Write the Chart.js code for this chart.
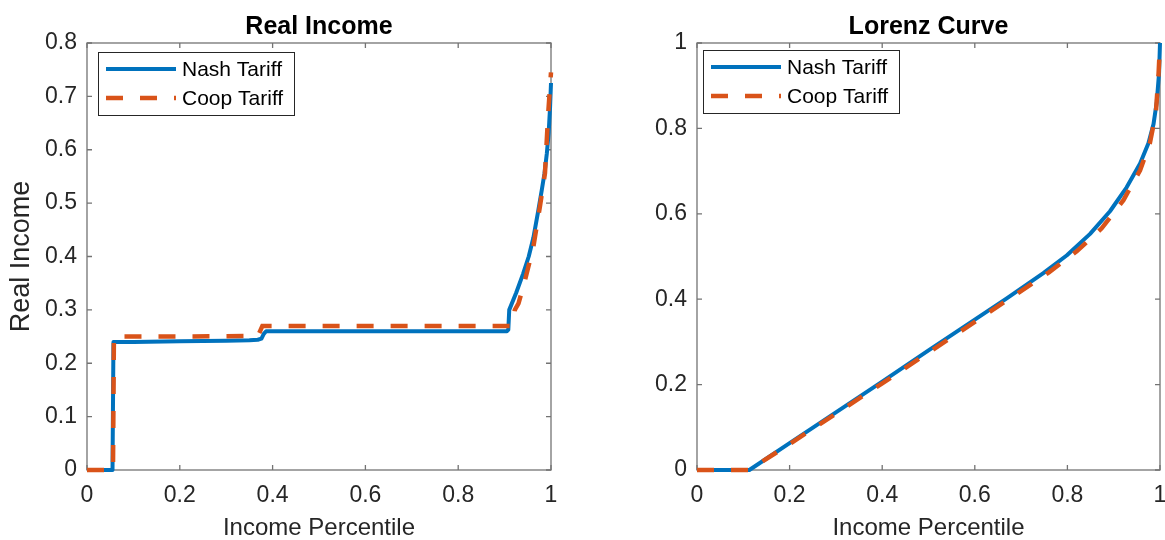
<!DOCTYPE html>
<html>
<head>
<meta charset="utf-8">
<title>Real Income and Lorenz Curve</title>
<script src="https://cdn.jsdelivr.net/npm/chart.js@4.4.0/dist/chart.umd.min.js"></script>
<style>
  body { margin: 0; background: #fff; width: 1165px; height: 540px; overflow: hidden; position: relative; }
  canvas { position: absolute; top: 0; }
  #income { left: 0; }
  #lorenz { left: 600px; }
</style>
</head>
<body>
<canvas id="income" width="600" height="540"></canvas>
<canvas id="lorenz" width="565" height="540"></canvas>
<script>
var seriesNames = ["Nash Tariff", "Coop Tariff"];

// real income by percentile
var incomeNashX = [0, 0.055, 0.057, 0.1, 0.2, 0.3, 0.35, 0.368, 0.376, 0.381, 0.386, 0.5, 0.7, 0.905, 0.908, 0.91, 0.925, 0.94, 0.952, 0.962, 0.972, 0.98, 0.986, 0.991, 0.995, 0.998, 1.0];
var incomeNashY = [0, 0, 0.24, 0.24, 0.241, 0.242, 0.243, 0.244, 0.246, 0.255, 0.26, 0.26, 0.26, 0.26, 0.263, 0.3, 0.332, 0.368, 0.4, 0.435, 0.483, 0.524, 0.556, 0.593, 0.632, 0.68, 0.725];
var incomeCoopX = [0, 0.056, 0.058, 0.2, 0.36, 0.37, 0.374, 0.378, 0.6, 0.915, 0.918, 0.922, 0.93, 0.944, 0.962, 0.976, 0.987, 0.994, 1.0];
var incomeCoopY = [0, 0, 0.25, 0.25, 0.251, 0.254, 0.262, 0.27, 0.27, 0.27, 0.275, 0.3, 0.312, 0.356, 0.418, 0.493, 0.556, 0.668, 0.745];

// cumulative income share (Lorenz)
var lorenzNashX = [0, 0.113, 0.2, 0.3, 0.4, 0.5, 0.6, 0.669, 0.748, 0.799, 0.849, 0.892, 0.928, 0.957, 0.975, 0.986, 0.993, 0.998, 1.0];
var lorenzNashY = [0, 0, 0.063, 0.135, 0.207, 0.28, 0.352, 0.402, 0.461, 0.503, 0.553, 0.606, 0.662, 0.718, 0.765, 0.81, 0.862, 0.93, 1.0];
var lorenzCoopX = [0, 0.113, 0.2, 0.3, 0.4, 0.5, 0.6, 0.698, 0.76, 0.82, 0.874, 0.921, 0.957, 0.978, 0.991, 0.997, 1.0];
var lorenzCoopY = [0, 0, 0.061, 0.132, 0.203, 0.275, 0.347, 0.418, 0.463, 0.512, 0.566, 0.632, 0.702, 0.765, 0.835, 0.93, 1.0];

var fam = "'Liberation Sans', Arial, Helvetica, sans-serif";
var textCol = '#262626';
Chart.defaults.font.family = fam;

function pts(xs, ys) {
  return xs.map(function(x, i) { return { x: x, y: ys[i] }; });
}

// box around the plot area with inward ticks on all four sides
var axesBox = {
  id: 'axesBox',
  beforeDatasetsDraw: function(chart) {
    var c = chart.ctx, a = chart.chartArea, xs = chart.scales.x, ys = chart.scales.y;
    c.save();
    c.strokeStyle = '#737373';
    c.lineWidth = 1.3;
    c.strokeRect(a.left, a.top, a.right - a.left, a.bottom - a.top);
    c.beginPath();
    xs.ticks.forEach(function(t) {
      var p = xs.getPixelForValue(t.value);
      c.moveTo(p, a.bottom); c.lineTo(p, a.bottom - 5);
      c.moveTo(p, a.top); c.lineTo(p, a.top + 5);
    });
    ys.ticks.forEach(function(t) {
      var p = ys.getPixelForValue(t.value);
      c.moveTo(a.left, p); c.lineTo(a.left + 5, p);
      c.moveTo(a.right, p); c.lineTo(a.right - 5, p);
    });
    c.stroke();
    c.restore();
  }
};

// legend drawn as a framed box inside the plot area
var boxLegend = {
  id: 'boxLegend',
  afterDatasetsDraw: function(chart, args, opts) {
    var c = chart.ctx, a = chart.chartArea;
    var x0 = Math.round(a.left + opts.dx), y0 = Math.round(a.top + opts.dy), w = 196, h = 63;
    c.save();
    c.fillStyle = '#fff';
    c.fillRect(x0, y0, w, h);
    c.strokeStyle = textCol;
    c.lineWidth = 1;
    c.strokeRect(x0 + 0.5, y0 + 0.5, w, h);
    chart.data.datasets.forEach(function(ds, i) {
      var yy = y0 + 17 + i * 29;
      c.beginPath();
      c.setLineDash(ds.borderDash || []);
      c.strokeStyle = ds.borderColor;
      c.lineWidth = ds.borderWidth;
      c.moveTo(x0 + 8, yy);
      c.lineTo(x0 + 78, yy);
      c.stroke();
      c.setLineDash([]);
      c.fillStyle = '#000';
      c.font = '21px ' + fam;
      c.textBaseline = 'middle';
      c.fillText(ds.label, x0 + 84, yy + 1);
    });
    c.restore();
  }
};

function makeChart(id, title, yTitle, yMax, yStep, nash, coop, pad, leg) {
  return new Chart(document.getElementById(id).getContext('2d'), {
    type: 'line',
    data: {
      datasets: [{
        label: seriesNames[0],
        data: nash,
        borderColor: '#0072BD',
        borderWidth: 4,
        borderJoinStyle: 'round',
        pointRadius: 0,
        tension: 0,
        clip: false,
        order: 2
      }, {
        label: seriesNames[1],
        data: coop,
        borderColor: '#D95319',
        borderWidth: 4.5,
        borderDash: [17, 17],
        borderCapStyle: 'butt',
        pointRadius: 0,
        tension: 0,
        clip: false,
        order: 1
      }]
    },
    options: {
      responsive: false,
      animation: false,
      events: [],
      layout: { padding: pad },
      plugins: {
        legend: { display: false },
        tooltip: { enabled: false },
        title: {
          display: true,
          text: title,
          color: '#000',
          fullSize: false,
          font: { size: 25, weight: 'bold', lineHeight: 1.2 },
          padding: { top: 12, bottom: 1 }
        },
        boxLegend: leg
      },
      scales: {
        x: {
          type: 'linear',
          min: 0,
          max: 1,
          grid: { display: false, drawTicks: false },
          border: { display: false },
          ticks: {
            stepSize: 0.2,
            padding: 12,
            color: textCol,
            maxRotation: 0,
            autoSkip: false,
            font: { size: 23 },
            callback: function(v) { return String(Math.round(v * 10) / 10); }
          },
          title: {
            display: true,
            text: 'Income Percentile',
            color: textCol,
            font: { size: 24, lineHeight: 1 },
            padding: { top: 0, bottom: 0 }
          },
          afterFit: function(s) { s.height = 70; s.paddingLeft = 0; s.paddingRight = 0; }
        },
        y: {
          type: 'linear',
          min: 0,
          max: yMax,
          grid: { display: false, drawTicks: false },
          border: { display: false },
          ticks: {
            stepSize: yStep,
            padding: 10,
            color: textCol,
            autoSkip: false,
            font: { size: 23 },
            callback: function(v) { return String(Math.round(v * 10) / 10); }
          },
          title: {
            display: !!yTitle,
            text: yTitle,
            color: textCol,
            font: { size: 27, lineHeight: 1 },
            padding: { top: 8, bottom: 0 }
          },
          afterFit: function(s) { s.width = 87; s.paddingTop = 0; s.paddingBottom = 0; }
        }
      }
    },
    plugins: [axesBox, boxLegend]
  });
}

var incomeChart = makeChart('income', 'Real Income', 'Real Income', 0.8, 0.1,
  pts(incomeNashX, incomeNashY), pts(incomeCoopX, incomeCoopY),
  { left: 0, right: 49, top: 0, bottom: 0 }, { dx: 11, dy: 9 });

var lorenzChart = makeChart('lorenz', 'Lorenz Curve', '', 1, 0.2,
  pts(lorenzNashX, lorenzNashY), pts(lorenzCoopX, lorenzCoopY),
  { left: 10, right: 5, top: 0, bottom: 0 }, { dx: 6, dy: 7 });
</script>
</body>
</html>
